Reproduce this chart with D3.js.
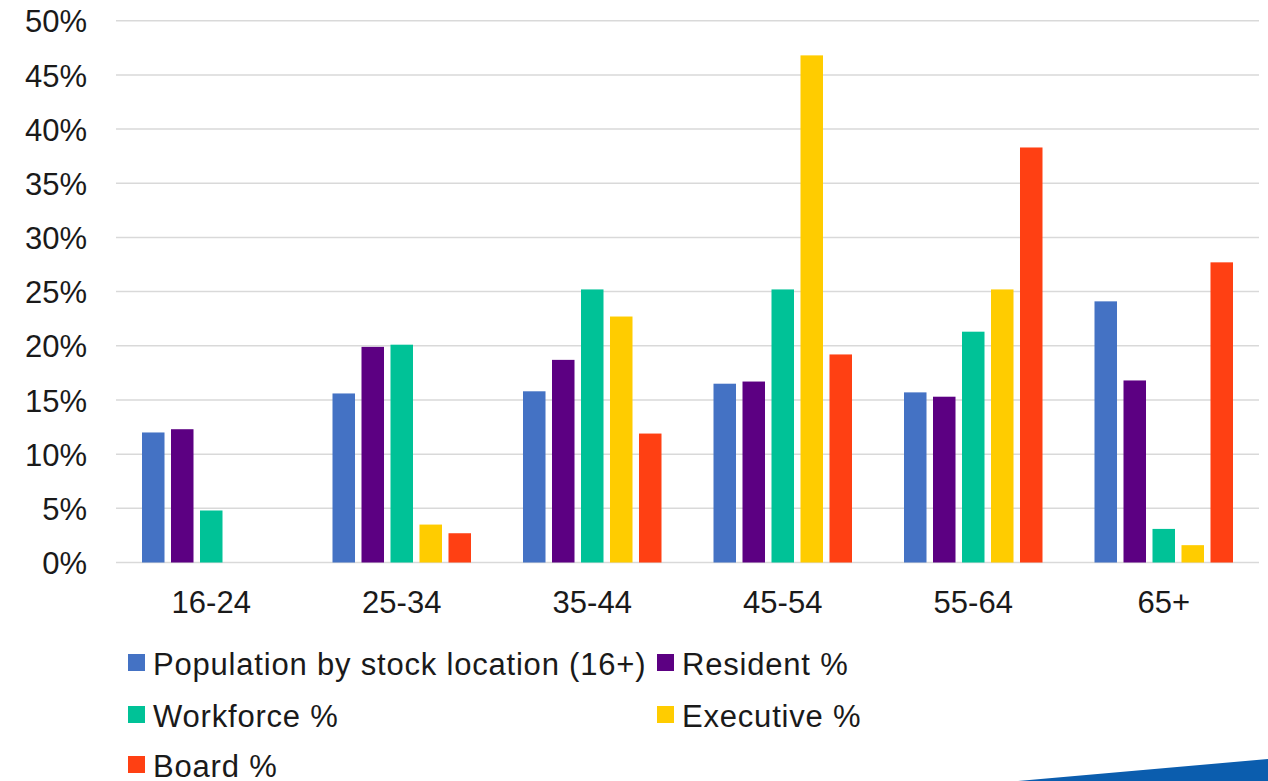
<!DOCTYPE html>
<html>
<head>
<meta charset="utf-8">
<script src="https://cdn.jsdelivr.net/npm/d3@7"></script>
<style>
  html, body { margin: 0; padding: 0; background: #ffffff; }
  svg { display: block; }
  text { font-family: "Liberation Sans", Arial, sans-serif; fill: #1a1a1a; }
</style>
</head>
<body>
<svg id="chart" width="1268" height="781"></svg>
<script>
// Age bands on the x axis
const ageGroups = ["16-24", "25-34", "35-44", "45-54", "55-64", "65+"];

// Series names, in legend / bar order
const seriesNames = [
  "Population by stock location (16+)",
  "Resident %",
  "Workforce %",
  "Executive %",
  "Board %"
];

const seriesColors = ["#4472C4", "#5C0082", "#00C297", "#FFCC00", "#FF4013"];

// Share of each group by age band (%)
const populationPct = [12.0, 15.6, 15.8, 16.5, 15.7, 24.1];
const residentPct   = [12.3, 19.9, 18.7, 16.7, 15.3, 16.8];
const workforcePct  = [4.8, 20.1, 25.2, 25.2, 21.3, 3.1];
const executivePct  = [0, 3.5, 22.7, 46.8, 25.2, 1.6];
const boardPct      = [0, 2.7, 11.9, 19.2, 38.3, 27.7];

const seriesValues = [populationPct, residentPct, workforcePct, executivePct, boardPct];

const yTicks = [0, 5, 10, 15, 20, 25, 30, 35, 40, 45, 50];

const svg = d3.select("#chart");

const plot = { left: 116, right: 1259, top: 20.7, bottom: 562.5 };

const x0 = d3.scaleBand()
  .domain(ageGroups)
  .range([plot.left, plot.right])
  .paddingInner(0)
  .paddingOuter(0);

const bw = x0.bandwidth();
const x1 = d3.scaleBand()
  .domain(d3.range(seriesNames.length))
  .range([bw / 2 - 69.25, bw / 2 + 69.25])
  .paddingInner(0.224)
  .paddingOuter(0);

const y = d3.scaleLinear().domain([0, 50]).range([plot.bottom, plot.top]);

// Horizontal gridlines
svg.append("g")
  .selectAll("line")
  .data(yTicks)
  .join("line")
  .attr("x1", plot.left)
  .attr("x2", plot.right)
  .attr("y1", d => y(d))
  .attr("y2", d => y(d))
  .attr("stroke", "#d9d9d9")
  .attr("stroke-width", 1.5);

// Y axis labels
const yAxis = d3.axisLeft(y)
  .tickValues(yTicks)
  .tickFormat(d => d + "%")
  .tickSize(0)
  .tickPadding(0);

const yG = svg.append("g")
  .attr("transform", `translate(${87},0)`)
  .call(yAxis);
yG.select(".domain").remove();
yG.selectAll("text")
  .attr("font-size", 31)
  .attr("font-family", "Liberation Sans, Arial, sans-serif")
  .attr("fill", "#1a1a1a")
  .attr("dy", "0.36em");

// Grouped bars
const rows = ageGroups.map((g, i) => ({
  group: g,
  values: seriesValues.map((vals, s) => ({ s, v: vals[i] }))
}));

const groups = svg.append("g")
  .selectAll("g")
  .data(rows)
  .join("g")
  .attr("transform", d => `translate(${x0(d.group)},0)`);

groups.selectAll("rect")
  .data(d => d.values)
  .join("rect")
  .attr("x", d => x1(d.s))
  .attr("width", x1.bandwidth())
  .attr("y", d => y(d.v))
  .attr("height", d => y(0) - y(d.v))
  .attr("fill", d => seriesColors[d.s]);

// X axis labels
const xAxis = d3.axisBottom(x0).tickSize(0).tickPadding(0);
const xG = svg.append("g")
  .attr("transform", `translate(0,${613})`)
  .call(xAxis);
xG.select(".domain").remove();
xG.selectAll("text")
  .attr("font-size", 31)
  .attr("font-family", "Liberation Sans, Arial, sans-serif")
  .attr("fill", "#1a1a1a")
  .attr("dy", 0)
  .attr("y", 0);

// Legend laid out in two columns
const legendCols = [128, 657];
const legendRows = [675, 727, 777];
const legend = svg.append("g")
  .selectAll("g")
  .data(seriesNames.map((name, i) => ({ name, i })))
  .join("g")
  .attr("transform", d => `translate(${legendCols[d.i % 2]},${legendRows[Math.floor(d.i / 2)]})`);

legend.append("rect")
  .attr("x", 0)
  .attr("y", -21)
  .attr("width", 17)
  .attr("height", 17)
  .attr("fill", d => seriesColors[d.i]);

legend.append("text")
  .attr("x", 25)
  .attr("y", 0)
  .attr("font-size", 31)
  .attr("letter-spacing", "0.8px")
  .text(d => d.name);

// Blue accent strip in the bottom-right corner
svg.append("path")
  .attr("d", d3.line()([[1018, 781], [1268, 759], [1268, 781]]) + "Z")
  .attr("fill", "#0B5DAE");
</script>
</body>
</html>
